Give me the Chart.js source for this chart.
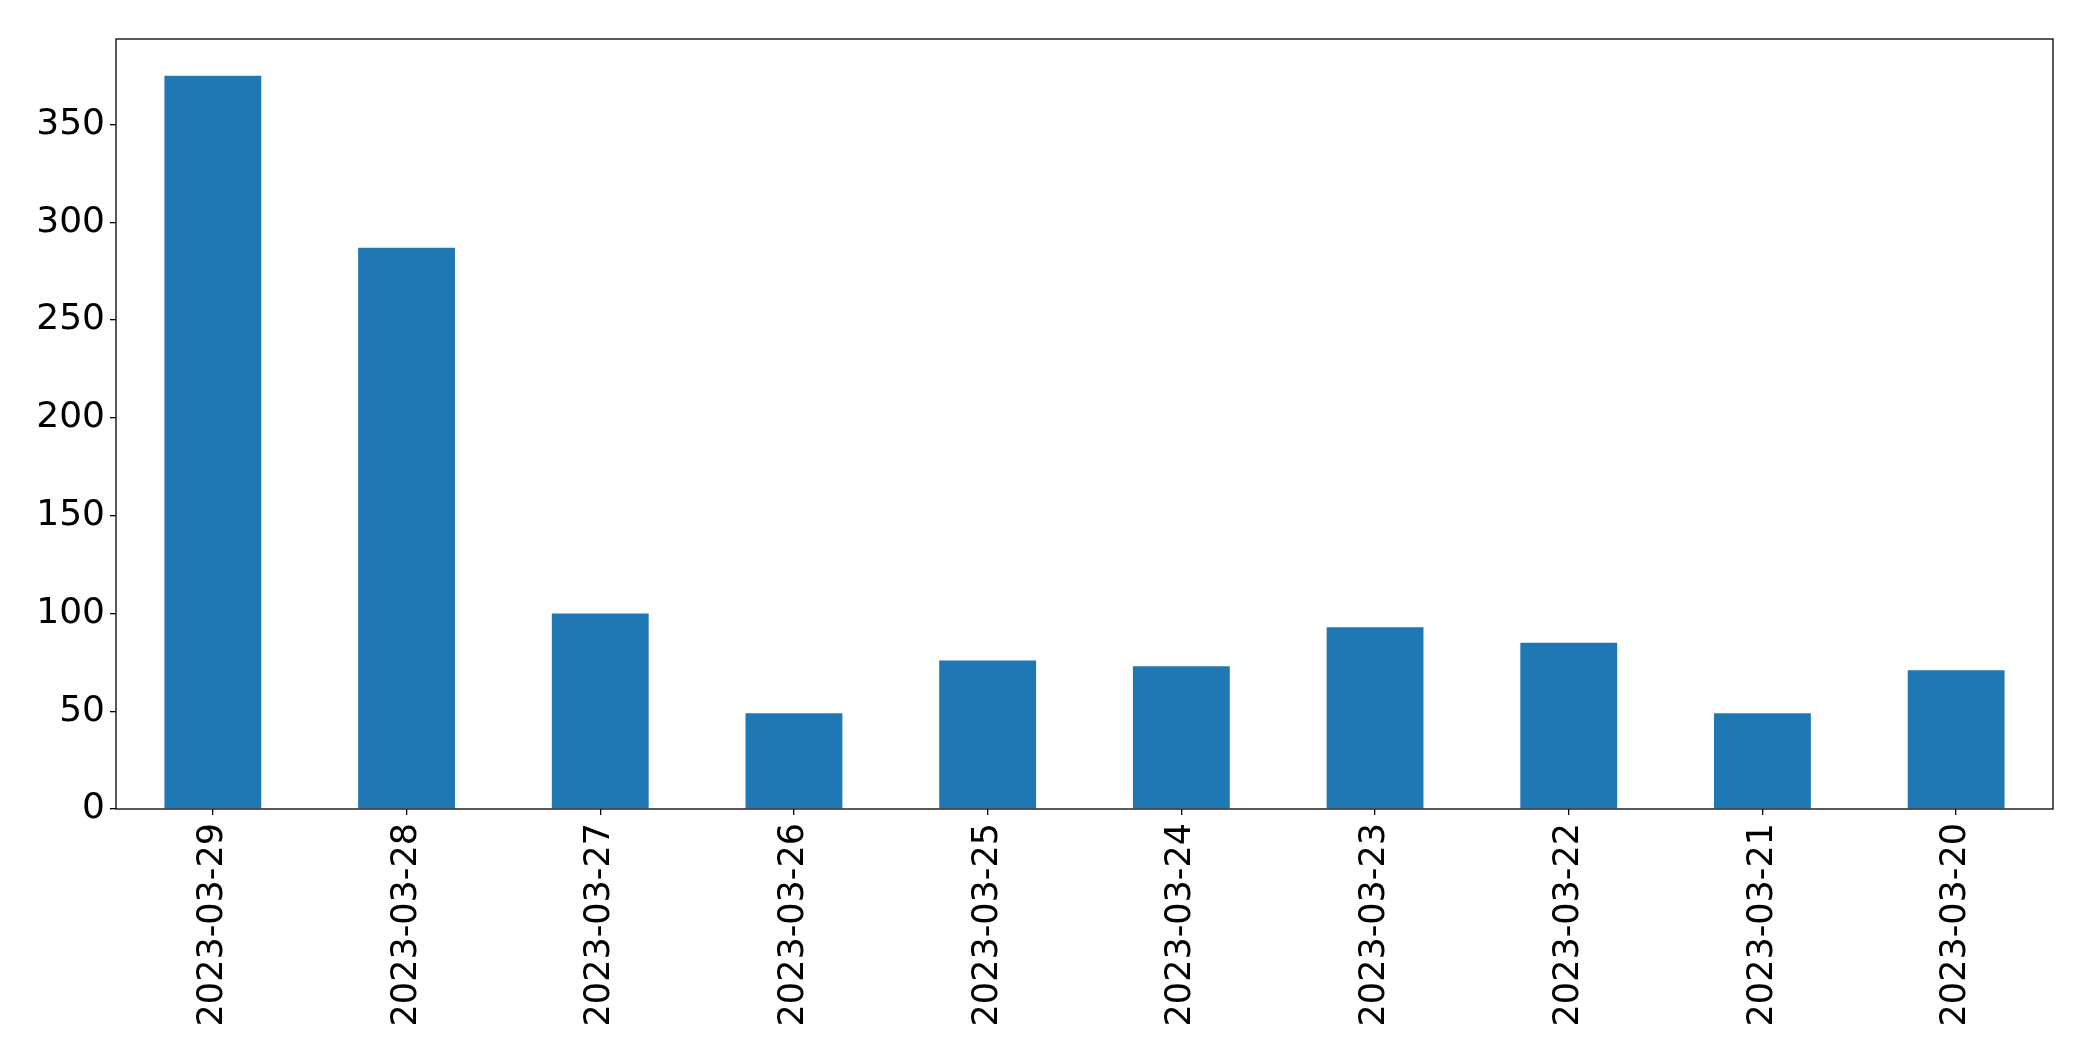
<!DOCTYPE html>
<html>
<head>
<meta charset="utf-8">
<script src="https://cdn.jsdelivr.net/npm/chart.js@4"></script>
<style>
  html, body { margin: 0; padding: 0; background: #fff; }
  #wrap { width: 2093px; height: 1061px; }
</style>
</head>
<body>
<div id="wrap"><canvas id="chart" width="2093" height="1061"></canvas></div>
<script>
const dates = ['2023-03-29', '2023-03-28', '2023-03-27', '2023-03-26', '2023-03-25',
               '2023-03-24', '2023-03-23', '2023-03-22', '2023-03-21', '2023-03-20'];
const counts = [375, 287, 100, 49, 76, 73, 93, 85, 49, 71];
const yTicks = [0, 50, 100, 150, 200, 250, 300, 350];

// frame round the plot area, like matplotlib's spines
const frame = {
    id: 'frame',
    afterDraw(c) {
        const a = c.chartArea, g = c.ctx;
        g.save();
        g.strokeStyle = '#000';
        g.lineWidth = 1.3;
        g.strokeRect(a.left, a.top, a.right - a.left, a.bottom - a.top);
        g.restore();
    }
};

const ctx = document.getElementById('chart').getContext('2d');
new Chart(ctx, {
    type: 'bar',
    data: {
        labels: dates,
        datasets: [{
            data: counts,
            backgroundColor: '#1f77b4',
            borderWidth: 0,
            barPercentage: 0.5,
            categoryPercentage: 1.0
        }]
    },
    options: {
        responsive: false,
        animation: false,
        layout: { padding: { left: 0, top: 39, right: 40, bottom: 0 } },
        plugins: { legend: { display: false }, tooltip: { enabled: false } },
        scales: {
            x: {
                offset: true,
                grid: { offset: false, drawOnChartArea: false, drawTicks: true, tickLength: 6, color: '#000', lineWidth: 1.3 },
                border: { display: false },
                ticks: {
                    color: '#000',
                    font: { family: 'DejaVu Sans', size: 35 },
                    minRotation: 90,
                    maxRotation: 90,
                    padding: 8
                },
                afterFit(s) { s.height = 252; }
            },
            y: {
                min: 0,
                max: 393.75,
                afterBuildTicks(s) { s.ticks = yTicks.map(v => ({ value: v })); },
                grid: { drawOnChartArea: false, drawTicks: true, tickLength: 6, color: '#000', lineWidth: 1.3 },
                border: { display: false },
                ticks: {
                    color: '#000',
                    font: { family: 'DejaVu Sans', size: 36 },
                    padding: 5
                },
                afterFit(s) { s.width = 116; }
            }
        }
    },
    plugins: [frame]
});
</script>
</body>
</html>
